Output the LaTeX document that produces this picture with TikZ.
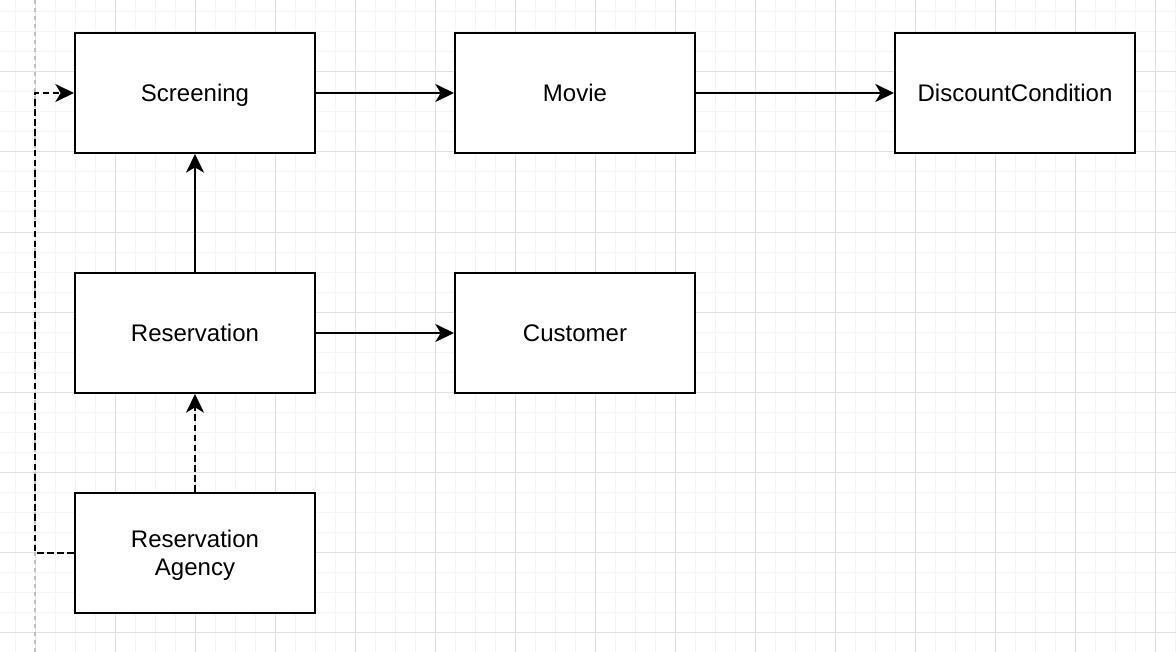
\documentclass[tikz,border=0pt]{standalone}
\usepackage{fontspec}
\setmainfont{Liberation Sans}
\usetikzlibrary{arrows.meta}

\definecolor{gridminor}{HTML}{F5F5F5}
\definecolor{gridmajor}{HTML}{E0E0E0}
\definecolor{pageline}{HTML}{C0C0C0}

\tikzset{
	classbox/.style={shape=rectangle, draw=black, fill=white, line width=1.5pt,
		minimum width=180pt, minimum height=90pt, align=center,
		text height=15.5pt, text depth=2.5pt,
		font=\fontsize{18}{21}\selectfont},
	link/.style={line width=1.5pt, ->},
	uses/.style={line width=1.5pt, ->, dash pattern=on 5pt off 2.6pt}
}

\begin{document}
\begin{tikzpicture}[x=0.75pt, y=-0.75pt, >={Stealth[length=14pt, width=13.5pt, inset=4pt]}]
	\useasboundingbox (0,0) rectangle (1176,652);
	\fill[white] (0,0) rectangle (1176,652);

	% grid
	\foreach \x in {15,35,...,1175} \draw[gridminor, line width=0.75pt] (\x,0) -- (\x,652);
	\foreach \y in {12,32,...,652} \draw[gridminor, line width=0.75pt] (0,\y) -- (1176,\y);
	\foreach \x in {35,115,...,1155} \draw[gridmajor, line width=0.75pt] (\x,0) -- (\x,652);
	\foreach \y in {72,152,...,632} \draw[gridmajor, line width=0.75pt] (0,\y) -- (1176,\y);
	\draw[pageline, line width=1pt, dash pattern=on 3pt off 3pt] (35,0) -- (35,652);

	\node[classbox] (Screening) at (195, 93) {Screening};
	\node[classbox] (Movie) at (575, 93) {Movie};
	\node[classbox] (Discount) at (1015, 93) {DiscountCondition};

	\node[classbox] (Reservation) at (195, 333) {Reservation};
	\node[classbox] (Customer) at (575, 333) {Customer};

	\node[classbox, text height=36.5pt] (Agency) at (195, 553) {Reservation\\Agency};

	\path [link] (Screening) edge (Movie);
	\path [link] (Movie) edge (Discount);
	\path [link] (Reservation) edge (Screening);
	\path [link] (Reservation) edge (Customer);
	\path [uses] (Agency) edge (Reservation);

	\coordinate (bend) at (35, 553);
	\draw [uses] (Agency.west) -- (bend) |- (Screening.west);

\end{tikzpicture}
\end{document}
